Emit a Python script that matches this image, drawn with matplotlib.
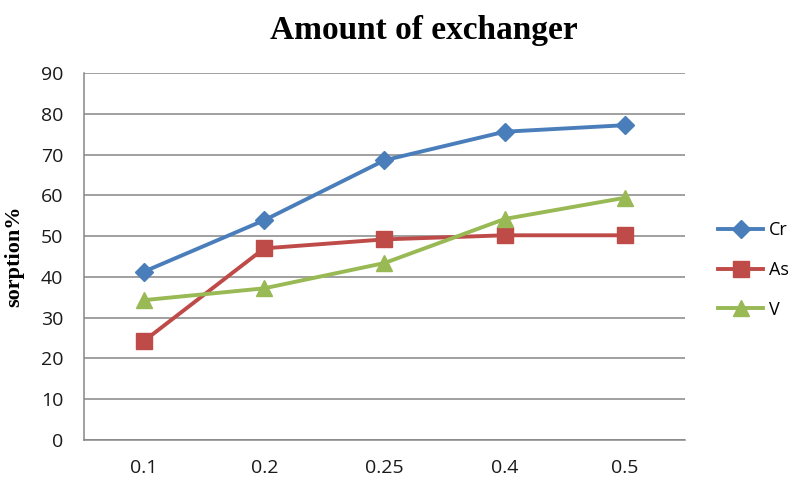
import matplotlib
matplotlib.use("Agg")
import matplotlib.pyplot as plt

# amount of exchanger vs sorption %
amounts = ["0.1", "0.2", "0.25", "0.4", "0.5"]
cr = [41.3, 53.9, 68.6, 75.6, 77.2]
as_ = [24.3, 47.0, 49.2, 50.2, 50.2]
v = [34.3, 37.2, 43.4, 54.2, 59.4]

grid_col = "#868686"

fig = plt.figure(figsize=(7.96, 4.79), dpi=100)
ax = fig.add_axes([0.1055, 0.0814, 0.755, 0.7662])

x = range(len(amounts))
ax.plot(x, cr, color="#4A7EBB", lw=2.8, marker="D", ms=9, label="Cr")
ax.plot(x, as_, color="#BE4B48", lw=2.8, marker="s", ms=11, label="As")
ax.plot(x, v, color="#98B954", lw=2.8, marker="^", ms=11, label="V")

ax.set_xlim(-0.5, len(amounts) - 0.5)
ax.set_ylim(0, 90)
ax.set_yticks(range(0, 91, 10))
ax.set_xticks(list(x))
ax.set_xticklabels(amounts)
ax.yaxis.grid(True, color=grid_col, lw=1.1)
ax.set_axisbelow(True)
for s in ["top", "right"]:
    ax.spines[s].set_visible(False)
for s in ["left", "bottom"]:
    ax.spines[s].set_color(grid_col)
    ax.spines[s].set_linewidth(1.1)
ax.tick_params(length=0, labelsize=14, labelcolor="#1a1a1a")
for lab in ax.get_xticklabels() + ax.get_yticklabels():
    lab.set_family("Open Sans")
ax.tick_params(axis="y", pad=15)
ax.tick_params(axis="x", pad=14)

ax.set_ylabel("sorption%", family="Liberation Serif", fontweight="bold", fontsize=16, labelpad=12)
fig.text(0.533, 0.937, "Amount of exchanger", family="Liberation Serif",
         fontweight="bold", fontsize=24, ha="center", va="center")

leg = ax.legend(loc="center left", bbox_to_anchor=(1.028, 0.463), frameon=False,
                prop={"family": "Open Sans", "size": 13}, labelspacing=1.2,
                handlelength=2.5, handletextpad=0.3)

fig.savefig("out.png", dpi=100)
